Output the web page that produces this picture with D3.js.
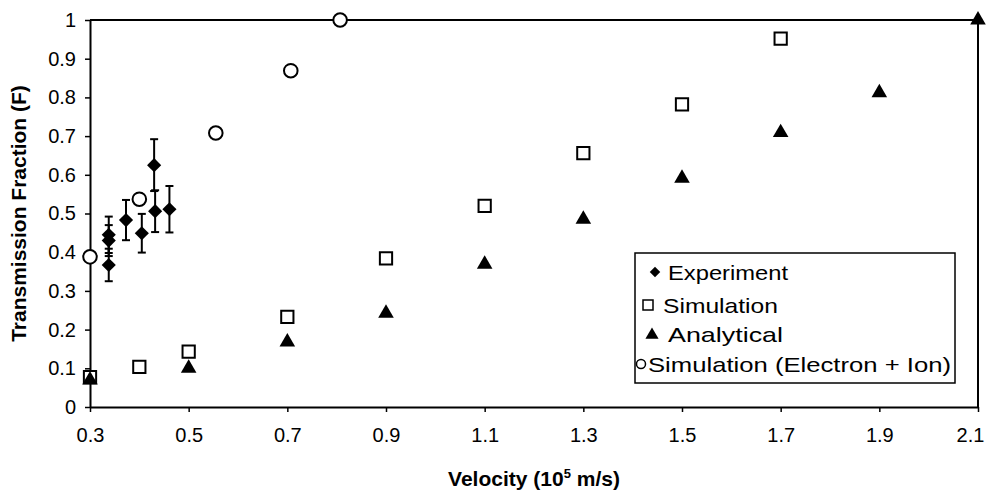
<!DOCTYPE html>
<html><head><meta charset="utf-8">
<script src="https://cdn.jsdelivr.net/npm/d3@7"></script>
<style>body{margin:0;background:#fff} text{font-family:"Liberation Sans",Arial,sans-serif;fill:#000}</style>
</head><body><svg id="c" width="987" height="490"></svg>
<script>
// ---- data ----
const xTicks = [0.3,0.5,0.7,0.9,1.1,1.3,1.5,1.7,1.9,2.1];
const yTicks = [0,0.1,0.2,0.3,0.4,0.5,0.6,0.7,0.8,0.9,1];
const expV   = [0.338,0.338,0.338,0.373,0.405,0.430,0.432,0.461];
const expF   = [0.367,0.430,0.445,0.483,0.449,0.625,0.506,0.511];
const expErr = [0.042,0.040,0.047,0.052,0.050,0.067,0.054,0.060];
const simV = [0.3,0.4,0.5,0.7,0.9,1.1,1.3,1.5,1.7];
const simF = [0.077,0.104,0.143,0.233,0.384,0.520,0.656,0.782,0.952];
const anaV = [0.3,0.5,0.7,0.9,1.1,1.3,1.5,1.7,1.9,2.1];
const anaF = [0.070,0.100,0.168,0.242,0.369,0.485,0.591,0.709,0.812,1.0];
const ionV = [0.3,0.4,0.555,0.707,0.807];
const ionF = [0.388,0.537,0.708,0.869,1.0];
const legendLabels = ["Experiment","Simulation","Analytical","Simulation (Electron + Ion)"];
const xTitle = "Velocity (10";
const yTitle = "Transmission Fraction (F)";

// ---- layout ----
const W = 987, H = 490;
const m = {l:90, r:9, t:20, b:83};
const svg = d3.select("#c");
const x = d3.scaleLinear().domain([0.3,2.1]).range([m.l, W-m.r]);
const y = d3.scaleLinear().domain([0,1]).range([H-m.b, m.t]);

// frame (top & right)
svg.append("line").attr("x1",x(0.3)).attr("x2",x(2.1)).attr("y1",y(1)).attr("y2",y(1))
  .attr("stroke","#000").attr("stroke-width",2);
svg.append("line").attr("x1",x(2.1)).attr("x2",x(2.1)).attr("y1",y(1)).attr("y2",y(0))
  .attr("stroke","#000").attr("stroke-width",2);

// axes
const xa = svg.append("g").attr("transform",`translate(0,${y(0)})`)
  .call(d3.axisBottom(x).tickValues(xTicks).tickFormat(d3.format(".1f")).tickSize(5).tickSizeOuter(0).tickPadding(16));
const ya = svg.append("g").attr("transform",`translate(${x(0.3)},0)`)
  .call(d3.axisLeft(y).tickValues(yTicks).tickFormat(d=>d===0?"0":d===1?"1":d3.format(".1f")(d)).tickSize(5).tickSizeOuter(0).tickPadding(9));
[xa,ya].forEach(g=>{
  g.select(".domain").attr("stroke","#000").attr("stroke-width",2);
  g.selectAll(".tick line").attr("stroke","#000").attr("stroke-width",1.5);
  g.selectAll(".tick text").attr("font-size",20).attr("font-family","Liberation Sans, Arial, sans-serif").attr("fill","#000");
});
// keep the last x label inside the picture
xa.selectAll(".tick text").filter(d=>d===xTicks[xTicks.length-1]).attr("dx",-8);

// titles
const xt = svg.append("text").attr("x",(x(0.3)+x(2.1))/2).attr("y",486).attr("text-anchor","middle")
  .attr("font-size",21).attr("font-weight","bold");
xt.append("tspan").text(xTitle);
xt.append("tspan").attr("font-size",13).attr("dy",-8).text("5");
xt.append("tspan").attr("dy",8).text(" m/s)");
svg.append("text").attr("transform",`translate(26,${(y(0)+y(1))/2}) rotate(-90)`).attr("text-anchor","middle")
  .attr("font-size",21).attr("font-weight","bold").text(yTitle);

// symbols
const sym = {
  diamond: s=>d3.symbol(d3.symbolSquare, s)(),
  square: s=>d3.symbol(d3.symbolSquare, s)(),
  triangle: s=>d3.symbol(d3.symbolTriangle, s)(),
  circle: s=>d3.symbol(d3.symbolCircle, s)()
};

// error bars
const eb = svg.append("g").attr("stroke","#000").attr("stroke-width",2);
expV.forEach((v,i)=>{
  const lo = y(expF[i]-expErr[i]), hi = y(expF[i]+expErr[i]), cx = x(v);
  eb.append("line").attr("x1",cx).attr("x2",cx).attr("y1",lo).attr("y2",hi);
  eb.append("line").attr("x1",cx-4).attr("x2",cx+4).attr("y1",lo).attr("y2",lo);
  eb.append("line").attr("x1",cx-4).attr("x2",cx+4).attr("y1",hi).attr("y2",hi);
});

// simulation squares
svg.append("g").selectAll("path").data(simV).join("path")
  .attr("d",sym.square(150)).attr("transform",(d,i)=>`translate(${x(d)},${y(simF[i])})`)
  .attr("fill","#fff").attr("stroke","#000").attr("stroke-width",2);
// analytical triangles
svg.append("g").selectAll("path").data(anaV).join("path")
  .attr("d",sym.triangle(105)).attr("transform",(d,i)=>`translate(${x(d)},${y(anaF[i])})`)
  .attr("fill","#000");
// circles
svg.append("g").selectAll("path").data(ionV).join("path")
  .attr("d",sym.circle(145)).attr("transform",(d,i)=>`translate(${x(d)},${y(ionF[i])})`)
  .attr("fill","#fff").attr("stroke","#000").attr("stroke-width",2);
// experiment diamonds
svg.append("g").selectAll("path").data(expV).join("path")
  .attr("d",sym.diamond(100)).attr("transform",(d,i)=>`translate(${x(d)},${y(expF[i])}) rotate(45)`)
  .attr("fill","#000");

// legend
const lg = svg.append("g");
lg.append("rect").attr("x",635).attr("y",253).attr("width",320).attr("height",130)
  .attr("fill","#fff").attr("stroke","#000").attr("stroke-width",1.5);
const rowsY = [280,313,342,372];
const symX = [655,648,652,641];
const txtX = [668,663,668,648];
const txtW = [120,115,115,303];
const lsym = [
  p=>p.attr("d",sym.diamond(55)).attr("fill","#000").attr("transform",`translate(${symX[0]},${rowsY[0]-8}) rotate(45)`),
  p=>p.attr("d",sym.square(100)).attr("fill","#fff").attr("stroke","#000").attr("stroke-width",1.5).attr("transform",`translate(${symX[1]},${rowsY[1]-8})`),
  p=>p.attr("d",sym.triangle(75)).attr("fill","#000").attr("transform",`translate(${symX[2]},${rowsY[2]-7})`),
  p=>p.attr("d",sym.circle(64)).attr("fill","#fff").attr("stroke","#000").attr("stroke-width",1.5).attr("transform",`translate(${symX[3]},${rowsY[3]-8})`)
];
legendLabels.forEach((t,i)=>{
  lsym[i](lg.append("path"));
  lg.append("text").attr("x",txtX[i]).attr("y",rowsY[i]).attr("font-size",21)
    .attr("textLength",txtW[i]).attr("lengthAdjust","spacingAndGlyphs").text(t);
});
</script></body></html>
